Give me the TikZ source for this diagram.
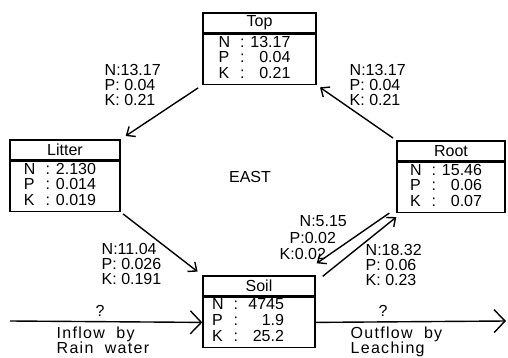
\documentclass[tikz,border=0pt]{standalone}
\usepackage{fontspec}
\usepackage{array}
\setmainfont{Liberation Sans}
\newfontfamily\flowfont[LetterSpace=8,WordSpace=2]{Liberation Sans}
\usetikzlibrary{arrows.meta,positioning}
\newcommand{\npk}[3]{\hspace*{-10pt}\begin{tabular}{@{}l@{\hspace{10pt}:}>{\raggedleft\arraybackslash}p{46pt}@{}}N&#1\\P&#2\\K&#3\end{tabular}}

\begin{document}
\begin{tikzpicture}[x=1pt, y=-1pt, >={Straight Barb[length=7pt,width=12pt]}, line width=1.4pt,
    font=\fontsize{16}{15}\selectfont, node distance=0pt,
    head/.style={draw, minimum width=#1, minimum height=20pt, inner sep=0pt},
    head/.default=110pt,
    body/.style={draw, minimum width=#1, minimum height=50pt, inner sep=0pt},
    body/.default=110pt,
    flux/.style={align=left, anchor=north west, inner sep=0pt},
    bigtip/.style={-{Straight Barb[length=11pt,width=23pt]}}]
  \useasboundingbox (0,0) rectangle (508,358);
  % compartments
  \node[head=113pt] (topH) at (259.5,23) {Top};
  \node[body=113pt, below=of topH] (topB) {\npk{13.17}{0.04}{0.21}};
  \node[head] (litH) at (65,150) {Litter};
  \node[body, below=of litH] (litB) {\npk{2.130}{0.014}{0.019}};
  \node[head=108pt] (rootH) at (451,151) {Root};
  \node[body=108pt, below=of rootH] (rootB) {\npk{15.46}{0.06}{0.07}};
  \node[head=112pt] (soilH) at (259,286) {Soil};
  \node[body=112pt, below=of soilH] (soilB) {\hspace*{-12pt}\npk{4745}{1.9}{25.2}};
  \node (east) at (250,177) {EAST};
  % fluxes
  \draw[->, shorten <=5pt, shorten >=6pt] (topB.south west) -- (litH.north east);
  \draw[->, shorten <=4pt, shorten >=4pt] (rootH.north west) -- (topB.south east);
  \draw[->, shorten <=3pt, shorten >=6pt] (litB.south east) -- (soilH.north west);
  \draw[->] ([shift={(-7,0)}]rootB.south west) -- ([shift={(1,-12)}]soilH.north east);
  \draw[->] ([shift={(7,1)}]soilH.north east) -- ([shift={(0,4)}]rootB.south west);
  \node[flux] (fTL) at (104,64) {N:13.17\\P: 0.04\\K: 0.21};
  \node[flux] (fRT) at (349,64) {N:13.17\\P: 0.04\\K: 0.21};
  \node[flux] (fLS) at (101,243) {N:11.04\\P: 0.026\\K: 0.191};
  \node[flux] (fSR) at (365,244) {N:18.32\\P: 0.06\\K: 0.23};
  \node[flux] (fRS) at (279,215) {\hspace*{20pt}N:5.15\\[1.5pt]\hspace*{10pt}P:0.02\\[1.5pt]K:0.02};
  % inflow and outflow
  \coordinate (rain) at (10,321);
  \coordinate (leach) at (506,321);
  \draw[bigtip] (rain) -- (soilB.west);
  \draw[bigtip] (soilB.east) -- (leach);
  \node (qIn) at (100,311) {?};
  \node[flux, font=\fontsize{16}{15}\flowfont] (inLbl) at (56,326) {Inflow by\\Rain water};
  \node (qOut) at (383,311) {?};
  \node[flux, font=\fontsize{16}{15}\flowfont] (outLbl) at (350,326) {Outflow by\\Leaching};
\end{tikzpicture}
\end{document}
